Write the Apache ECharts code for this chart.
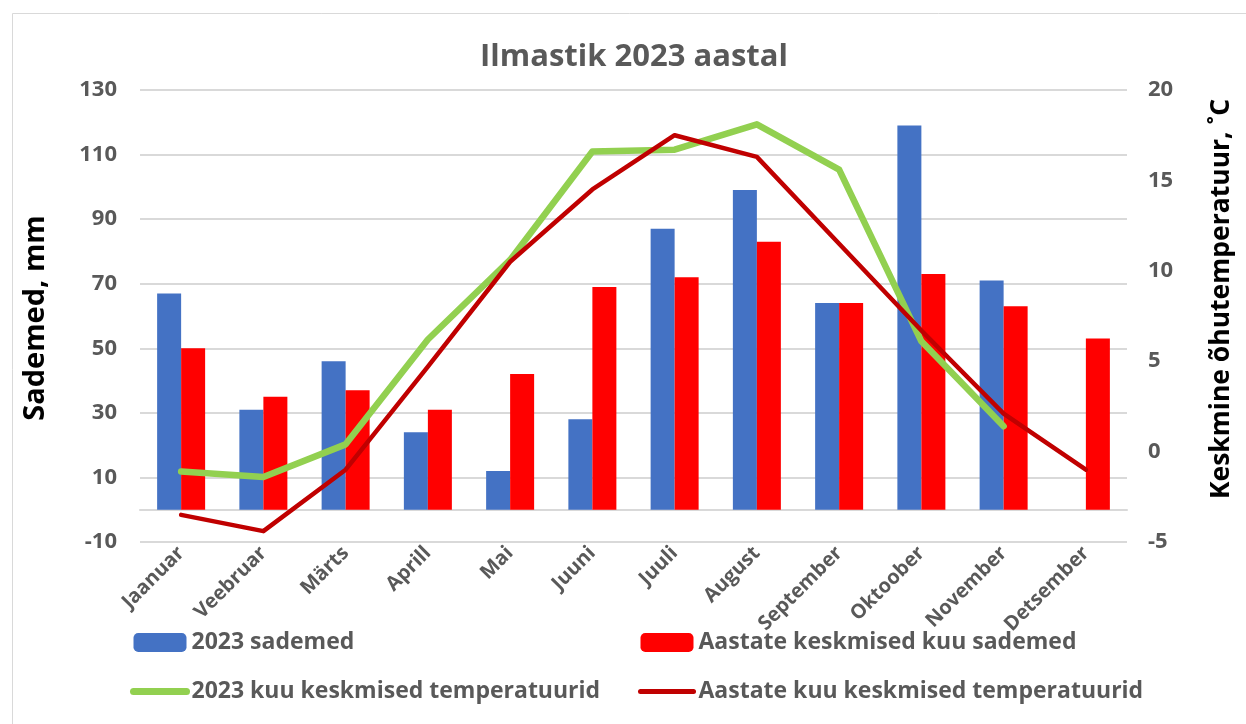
<!DOCTYPE html>
<html><head><meta charset="utf-8">
<script src="https://cdn.jsdelivr.net/npm/echarts@6/dist/echarts.min.js"></script>
<style>html,body{margin:0;padding:0;background:#fff}#c{width:1246px;height:724px}</style>
</head><body><div id="c"></div>
<script>
const categories = ['Jaanuar','Veebruar','Märts','Aprill','Mai','Juuni','Juuli','August','September','Oktoober','November','Detsember'];
const precip2023 = [67, 31, 46, 24, 12, 28, 87, 99, 64, 119, 71, null];
const precipAvg = [50, 35, 37, 31, 42, 69, 72, 83, 64, 73, 63, 53];
const temp2023 = [-1.1, -1.4, 0.4, 6.2, 10.6, 16.6, 16.7, 18.1, 15.6, 6.1, 1.4, null];
const tempAvg = [-3.5, -4.4, -1.0, 4.7, 10.5, 14.5, 17.5, 16.3, 11.5, 6.7, 2.1, -1.0];
const seriesNames = ['2023 sademed', 'Aastate keskmised kuu sademed', '2023 kuu keskmised temperatuurid', 'Aastate kuu keskmised temperatuurid'];

const FONT = '"Open Sans", "Noto Sans", sans-serif';
const GRAY = '#595959';
const chart = echarts.init(document.getElementById('c'), null, {renderer: 'canvas'});
const legendText = {color: GRAY, fontWeight: 'bold', fontSize: 23, fontFamily: FONT};
const hideSym = {color: 'rgba(0,0,0,0)', borderWidth: 0};
chart.setOption({
  animation: false,
  backgroundColor: '#fff',
  title: {
    text: 'Ilmastik 2023 aastal', left: 475, top: 37,
    textStyle: {color: GRAY, fontSize: 31, fontWeight: 'bold', fontFamily: FONT}
  },
  graphic: [
    {type: 'rect', shape: {x: 12.5, y: 13.5, width: 1300, height: 800}, style: {fill: null, stroke: '#d9d9d9', lineWidth: 1}, z: -10},
    {type: 'text', x: 36, y: 318, rotation: Math.PI / 2,
     style: {text: 'Sademed, mm', fill: '#000', font: 'bold 29px ' + FONT, align: 'center', verticalAlign: 'middle'}},
    {type: 'text', x: 1221, y: 299, rotation: Math.PI / 2,
     style: {text: 'Keskmine õhutemperatuur, ˚C', fill: '#000', font: 'bold 26.5px ' + FONT, align: 'center', verticalAlign: 'middle'}}
  ],
  legend: [
    {orient: 'vertical', left: 130, top: 631, padding: 0, itemWidth: 53, itemHeight: 19, itemGap: 26, textStyle: legendText,
     data: [seriesNames[0], {name: seriesNames[2], itemStyle: hideSym, lineStyle: {width: 7, cap: 'round'}}]},
    {orient: 'vertical', left: 638, top: 631, padding: 0, itemWidth: 53, itemHeight: 19, itemGap: 26, textStyle: legendText,
     data: [seriesNames[1], {name: seriesNames[3], itemStyle: hideSym, lineStyle: {width: 5, cap: 'round'}}]}
  ],
  grid: {left: 140, right: 119, top: 90, bottom: 182},
  xAxis: {
    type: 'category', data: categories, boundaryGap: true,
    axisTick: {show: false},
    axisLine: {onZero: true, lineStyle: {color: '#d9d9d9', width: 2}},
    axisLabel: {rotate: 45, margin: 8, color: GRAY, fontWeight: 'bold', fontSize: 20, fontFamily: FONT, interval: 0}
  },
  yAxis: [
    {type: 'value', min: -10, max: 130, interval: 20,
     axisLine: {show: false}, axisTick: {show: false},
     axisLabel: {color: GRAY, fontWeight: 'bold', fontSize: 22, fontFamily: FONT, margin: 23},
     splitLine: {lineStyle: {color: '#d9d9d9', width: 2}}},
    {type: 'value', min: -5, max: 20, interval: 5, position: 'right',
     axisLine: {show: false}, axisTick: {show: false},
     axisLabel: {color: GRAY, fontWeight: 'bold', fontSize: 22, fontFamily: FONT, margin: 21},
     splitLine: {show: false}}
  ],
  series: [
    {name: seriesNames[0], type: 'bar', data: precip2023, barWidth: 24, barGap: '0%', itemStyle: {color: '#4472C4'}, yAxisIndex: 0},
    {name: seriesNames[1], type: 'bar', data: precipAvg, barWidth: 24, barGap: '0%', itemStyle: {color: '#FF0000'}, yAxisIndex: 0},
    {name: seriesNames[2], type: 'line', data: temp2023, yAxisIndex: 1, symbol: 'none', showSymbol: false,
     lineStyle: {color: '#92D050', width: 6.5, cap: 'round', join: 'round'}, itemStyle: {color: '#92D050'}},
    {name: seriesNames[3], type: 'line', data: tempAvg, yAxisIndex: 1, symbol: 'none', showSymbol: false,
     lineStyle: {color: '#C00000', width: 4.5, cap: 'round', join: 'round'}, itemStyle: {color: '#C00000'}}
  ]
});
</script></body></html>
